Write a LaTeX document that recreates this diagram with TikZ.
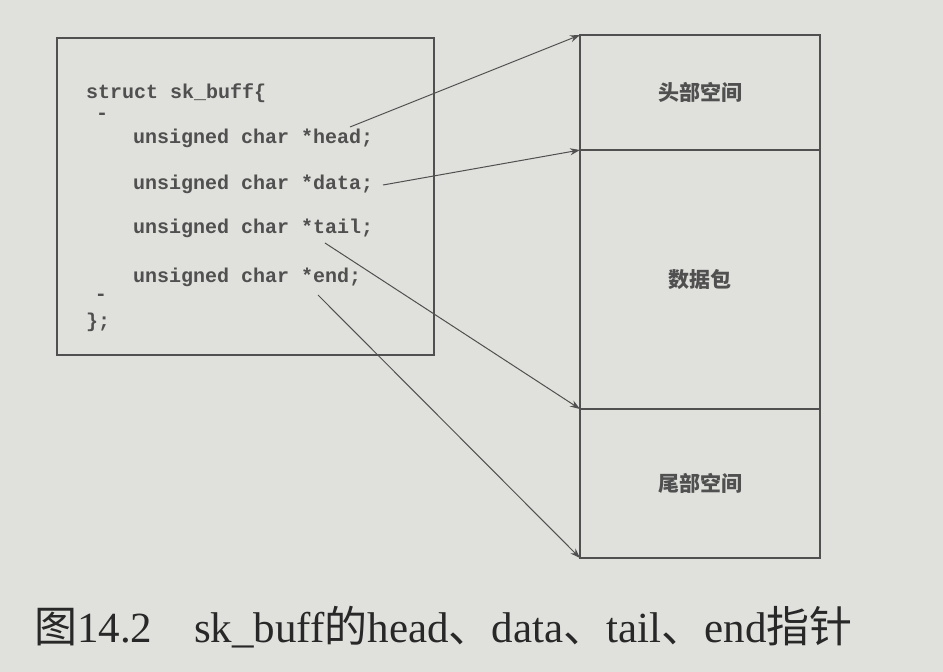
\documentclass[tikz,border=0pt]{standalone}
\usepackage{fontspec}
\setmainfont{Liberation Serif}
\setmonofont{Liberation Mono}
\newfontfamily\cjk{Noto Sans CJK SC}
\usetikzlibrary{arrows.meta}
\definecolor{paper}{RGB}{224,224,220}
\definecolor{ink}{RGB}{80,80,80}
\definecolor{codeink}{RGB}{80,80,80}
\definecolor{capink}{RGB}{40,40,40}
\tikzset{
  frame/.style={draw=ink, line width=1.2pt, inner sep=0pt, outer sep=0pt},
  codeline/.style={anchor=base west, inner sep=0pt, text=codeink, font=\ttfamily\bfseries\fontsize{20}{20}\selectfont},
  seg/.style={frame, minimum width=240pt, text=ink, font=\cjk\bfseries\fontsize{21}{21}\selectfont},
  ptr/.style={draw=ink, line width=1pt, -{Stealth[length=10pt,width=7pt]}},
  captiontext/.style={anchor=base west, inner sep=0pt, text=capink, font=\fontsize{43}{43}\selectfont}
}
\begin{document}
\begin{tikzpicture}[x=1pt,y=-1pt]
\useasboundingbox (0,0) rectangle (943,672);
\fill[paper] (0,0) rectangle (943,672);
% struct box
\node[frame, minimum width=377pt, minimum height=317pt] (structbox) at (245.5,196.5) {};
\node[codeline] (lstruct) at (86,98) {struct sk\_buff\{};
\node[codeline, anchor=center] (dots1) at (102,116) {-};
\node[codeline] (lhead) at (133,143) {unsigned char *head;};
\node[codeline] (ldata) at (133,189) {unsigned char *data;};
\node[codeline] (ltail) at (133,233) {unsigned char *tail;};
\node[codeline] (lend) at (133,282) {unsigned char *end;};
\node[codeline, anchor=center] (dots2) at (101,297) {-};
\node[codeline] (lclose) at (86,327) {\};};
% buffer
\node[seg, minimum height=115pt] (headroom) at (700,92.5) {头部空间};
\node[seg, minimum height=259pt] (dataroom) at (700,279.5) {数据包};
\node[seg, minimum height=149pt] (tailroom) at (700,483.5) {尾部空间};
% pointer starts
\coordinate (shead) at (350,127);
\coordinate (sdata) at (383,185);
\coordinate (stail) at (325,243);
\coordinate (send) at (318,295);
\draw[ptr] (shead) -- (headroom.north west);
\draw[ptr] (sdata) -- (dataroom.north west);
\draw[ptr] (stail) -- (dataroom.south west);
\draw[ptr] (send) -- (tailroom.south west);
% caption
\node[captiontext] (capnum) at (34,642) {{\cjk 图}14.2};
\node[captiontext] (captext) at (194,642) {sk\_buff{\cjk 的}head{\cjk 、}data{\cjk 、}tail{\cjk 、}end{\cjk 指针}};
\end{tikzpicture}
\end{document}
